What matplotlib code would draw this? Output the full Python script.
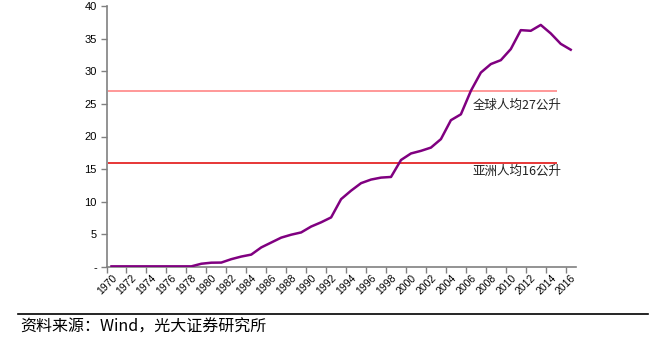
import numpy as np
import matplotlib.pyplot as plt
from matplotlib.lines import Line2D

plt.rcParams['font.family'] = ['Liberation Sans', 'Noto Sans CJK SC']

years = list(range(1970, 2017))
per_capita = [0.1, 0.1, 0.1, 0.1, 0.1, 0.1, 0.1, 0.1, 0.1, 0.5,
              0.66, 0.68, 1.2, 1.6, 1.9, 3.0, 3.75, 4.5, 4.95, 5.3,
              6.2, 6.85, 7.6, 10.4, 11.7, 12.85, 13.4, 13.7, 13.8, 16.4,
              17.4, 17.8, 18.3, 19.6, 22.5, 23.4, 27.0, 29.8, 31.1, 31.7,
              33.4, 36.3, 36.2, 37.1, 35.8, 34.2, 33.3]
world_avg = 27
asia_avg = 16
world_label = '全球人均27公升'
asia_label = '亚洲人均16公升'
source = '资料来源：Wind，光大证券研究所'

fig = plt.figure(figsize=(6.52, 3.4), dpi=100)
ax = fig.add_axes([106.5 / 652, 1 - 267 / 340, (575.7 - 106.5) / 652, (267 - 6) / 340])

x = np.arange(len(years))
ax.plot(x, per_capita, color='#800080', lw=1.8, zorder=3)

# reference levels, drawn over most of the period
ref_start, ref_end = -0.35, 44.6
ax.hlines(world_avg, ref_start, ref_end, color='#FF9090', lw=1.3, zorder=2)
ax.hlines(asia_avg, ref_start, ref_end, color='#E00000', lw=1.1, zorder=2)
cjk = ['Noto Sans CJK SC']
ax.text(36.2, world_avg - 2.2, world_label, fontsize=9, family=cjk,
        ha='left', va='center', color='#222222')
ax.text(36.2, asia_avg - 1.4, asia_label, fontsize=9, family=cjk,
        ha='left', va='center', color='#222222')

ax.set_xlim(-0.5, len(years) - 0.5)
ax.set_ylim(0, 40)
ax.set_yticks(range(0, 41, 5))
ax.set_yticklabels(['-'] + [str(v) for v in range(5, 41, 5)], fontsize=8)

# ticks sit between categories, labels on every other category
ax.set_xticks(np.arange(-0.5, len(years) - 0.5, 2))
ax.set_xticklabels([])
ax.set_xticks(x[::2], minor=True)
ax.set_xticklabels([str(y) for y in years[::2]], minor=True, fontsize=7.5,
                   rotation=45, ha='right', rotation_mode='anchor')
ax.tick_params(axis='x', which='major', length=4, color='#808080', width=1)
ax.tick_params(axis='x', which='minor', length=0, pad=4)
ax.tick_params(axis='y', length=4, color='#808080', width=1, pad=3)

for s in ['top', 'right']:
    ax.spines[s].set_visible(False)
for s in ['left', 'bottom']:
    ax.spines[s].set_color('#808080')
    ax.spines[s].set_linewidth(1.2)

fig.add_artist(Line2D([18 / 652, 648 / 652], [1 - 314 / 340] * 2,
                      color='black', lw=1.2))
fig.text(20 / 652, 1 - 327 / 340, source, fontsize=11.5, family=cjk,
         ha='left', va='center')

fig.savefig('out.png', dpi=100)
